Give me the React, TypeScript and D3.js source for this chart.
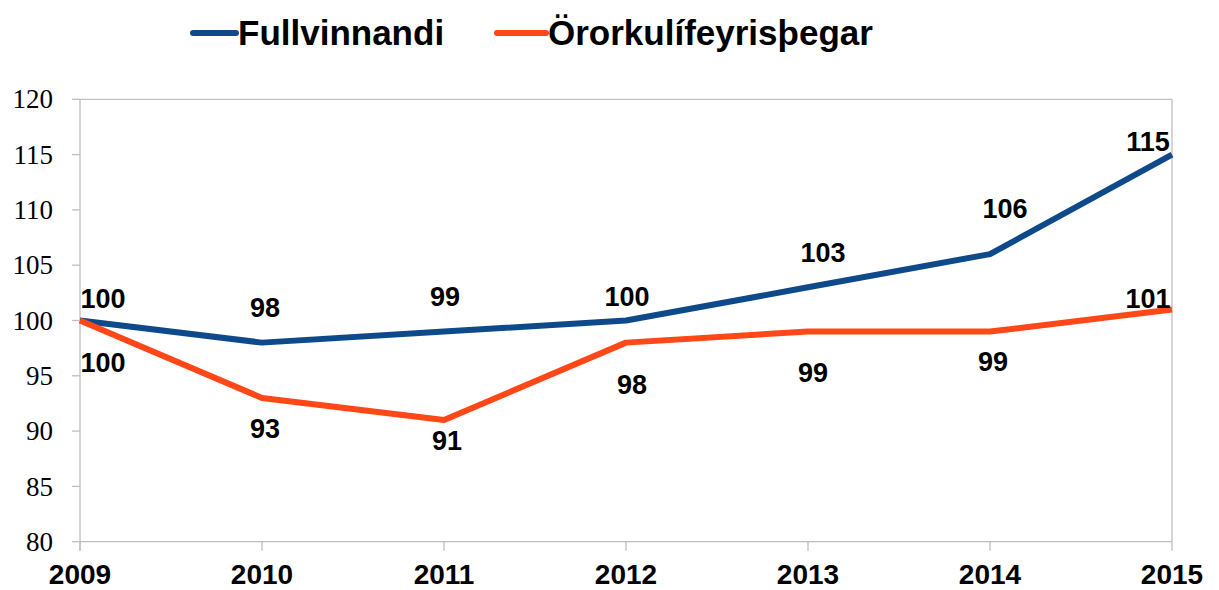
import React from "react";
import * as d3 from "d3";

const years = ["2009", "2010", "2011", "2012", "2013", "2014", "2015"];
const fullvinnandi = [100, 98, 99, 100, 103, 106, 115];
const ororku = [100, 93, 91, 98, 99, 99, 101];
const yTicks = [80, 85, 90, 95, 100, 105, 110, 115, 120];
const seriesNames = ["Fullvinnandi", "Örorkulífeyrisþegar"];

// label placement offsets (pixels) relative to points
const blueLabelDx = [23, 3, 1, 1, 15, 15, -24];
const blueLabelDy = [-22, -35, -35, -24, -35, -46, -13];
const orangeLabelDx = [23, 3, 3, 6, 5, 3, -24];
const orangeLabelDy = [42, 30, 20, 42, 41, 30, -11];

const BLUE = "#0E4A8A";
const ORANGE = "#FF4717";
const AXIS = "#BFBFBF";

export default function App() {
  const W = 1219;
  const H = 590;
  const left = 80;
  const right = 1172;
  const top = 99.3;
  const bottom = 541.7;

  const x = d3
    .scalePoint<string>()
    .domain(years)
    .range([left, right]);
  const y = d3.scaleLinear().domain([80, 120]).range([bottom, top]);

  const line = d3
    .line<number>()
    .x((_, i) => x(years[i]) as number)
    .y((d) => y(d));

  const series = [
    { name: seriesNames[0], values: fullvinnandi, color: BLUE, dx: blueLabelDx, dy: blueLabelDy },
    { name: seriesNames[1], values: ororku, color: ORANGE, dx: orangeLabelDx, dy: orangeLabelDy },
  ];

  const legendItems = [
    { x1: 193, x2: 236, tx: 238, color: BLUE, name: seriesNames[0] },
    { x1: 497, x2: 546, tx: 548, color: ORANGE, name: seriesNames[1] },
  ];

  return (
    <svg
      width={W}
      height={H}
      style={{ position: "absolute", left: 0, top: 0, background: "#fff" }}
    >
      {/* legend */}
      {legendItems.map((l) => (
        <g key={l.name}>
          <line x1={l.x1} x2={l.x2} y1={33} y2={33} stroke={l.color} strokeWidth={6} strokeLinecap="round" />
          <text
            x={l.tx}
            y={45}
            fontFamily="Liberation Sans, Arial, sans-serif"
            fontWeight="bold"
            fontSize={35}
            fill="#000"
          >
            {l.name}
          </text>
        </g>
      ))}

      {/* plot border */}
      <line x1={left} x2={right} y1={top} y2={top} stroke={AXIS} strokeWidth={1.3} />
      <line x1={right} x2={right} y1={top} y2={bottom} stroke={AXIS} strokeWidth={1.3} />
      <line x1={left} x2={left} y1={top} y2={bottom + 9} stroke={AXIS} strokeWidth={1.3} />
      <line x1={left} x2={right} y1={bottom} y2={bottom} stroke={AXIS} strokeWidth={1.3} />

      {/* y ticks */}
      {yTicks.map((t) => (
        <g key={t}>
          <line x1={left - 8} x2={left} y1={y(t)} y2={y(t)} stroke={AXIS} strokeWidth={1.3} />
          <text
            x={53}
            y={y(t)}
            dy="0.34em"
            textAnchor="end"
            fontFamily="Liberation Serif, Times New Roman, serif"
            fontSize={27}
            fill="#000"
          >
            {t}
          </text>
        </g>
      ))}

      {/* x ticks */}
      {years.map((yr) => (
        <g key={yr}>
          <line x1={x(yr)} x2={x(yr)} y1={bottom} y2={bottom + 9} stroke={AXIS} strokeWidth={1.3} />
          <text
            x={x(yr)}
            y={584}
            textAnchor="middle"
            fontFamily="Liberation Sans, Arial, sans-serif"
            fontWeight="bold"
            fontSize={28}
            fill="#000"
          >
            {yr}
          </text>
        </g>
      ))}

      {/* lines */}
      {series.map((s) => (
        <path
          key={s.name}
          d={line(s.values) || ""}
          fill="none"
          stroke={s.color}
          strokeWidth={6}
          strokeLinejoin="round"
        />
      ))}

      {/* data labels */}
      {series.map((s) =>
        s.values.map((v, i) => (
          <text
            key={s.name + i}
            x={(x(years[i]) as number) + s.dx[i]}
            y={y(v) + s.dy[i]}
            dy="0.36em"
            textAnchor="middle"
            fontFamily="Liberation Sans, Arial, sans-serif"
            fontWeight="bold"
            fontSize={27}
            fill="#000"
          >
            {v}
          </text>
        ))
      )}
    </svg>
  );
}
